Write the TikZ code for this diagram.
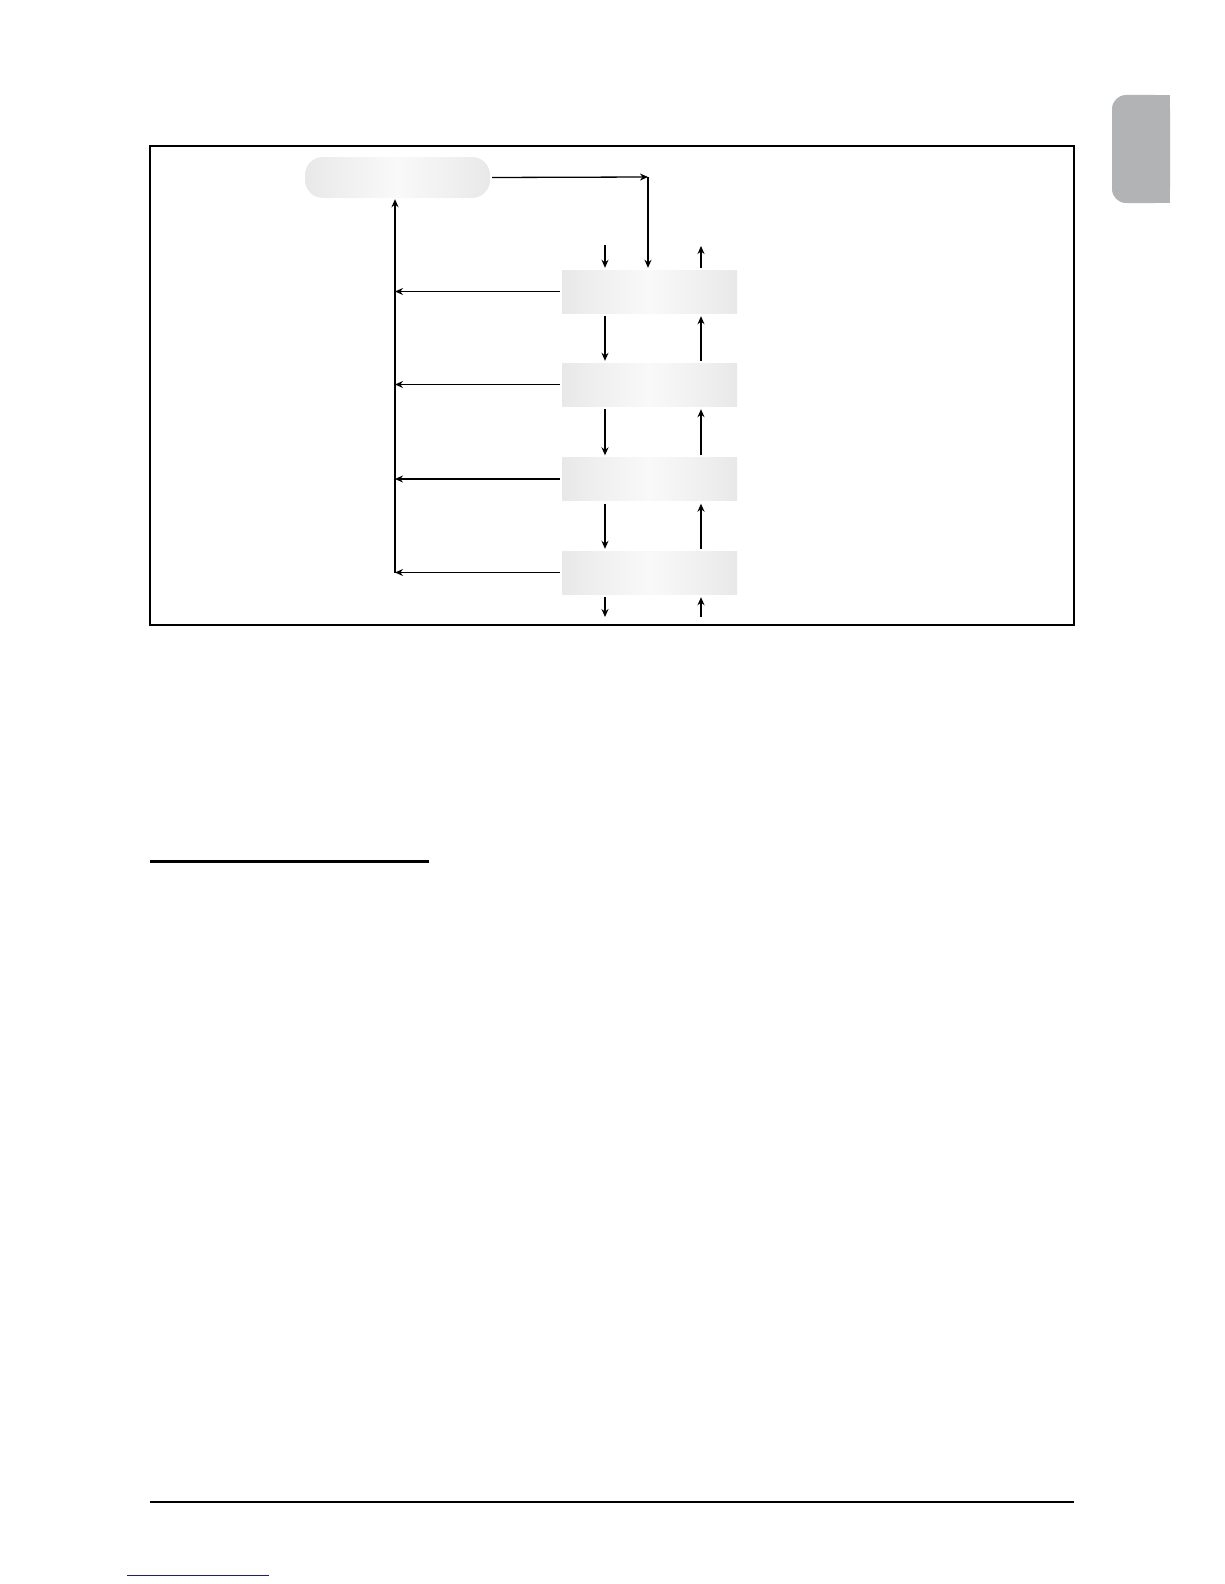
\documentclass[tikz,border=0pt]{standalone}
\usetikzlibrary{arrows.meta}
\definecolor{boxedge}{HTML}{E8E8E8}
\definecolor{boxnear}{HTML}{EEEEEE}
\definecolor{boxmid}{HTML}{F9F9F9}
\definecolor{tabgray}{HTML}{B1B3B4}
\definecolor{linkblue}{HTML}{1A1A99}
\pgfdeclarehorizontalshading{boxshade}{100bp}{color(0bp)=(boxedge); color(25bp)=(boxedge); color(33bp)=(boxnear); color(50bp)=(boxmid); color(67bp)=(boxnear); color(75bp)=(boxedge); color(100bp)=(boxedge)}
\begin{document}
\begin{tikzpicture}[x=1pt,y=-1pt,
  conn/.style={line width=1.3pt,-{Stealth[length=8pt,width=7pt]}},
  stagebox/.style={minimum width=175pt,minimum height=43pt,inner sep=0pt,
    shading=boxshade},
  topbox/.style={minimum width=185pt,minimum height=41pt,inner sep=0pt,
    rounded corners=18pt,shading=boxshade}]
\useasboundingbox (0,0) rectangle (1224,1584);
% frame
\draw[line width=1.6pt] (150,146) rectangle (1074,625);
% side tab
\fill[tabgray,rounded corners=14pt] (1112,95) rectangle (1170,203);
\fill[tabgray] (1145,95) rectangle (1170,203);
% nodes
\node[topbox] (top) at (397.5,177.5) {};
\node[stagebox] (b1) at (649.5,291.5) {};
\node[stagebox] (b2) at (649.5,384.5) {};
\node[stagebox] (b3) at (649.5,479) {};
\node[stagebox] (b4) at (649.5,572.5) {};
% helper coordinates
\coordinate (corner) at (648,177);
\coordinate (bus) at (395,0);
\coordinate (dn) at (605,0);
\coordinate (up) at (701,0);
\coordinate (inTop) at (605,245);
\coordinate (outTop) at (701,246);
\coordinate (outBot) at (605,617);
\coordinate (inBot) at (701,617);
% top loop
\draw[conn,shorten <=2pt] (top.east) -- (corner);
\draw[conn,shorten >=2pt] (corner) -- (corner |- b1.north);
% bus
\draw[conn,shorten >=1pt] (bus |- b4.west) -- (bus |- top.south);
\foreach \b in {b1,b2,b3,b4}{
  \draw[conn,shorten <=2pt] (\b.west) -- (bus |- \b.west);
}
% down arrows
\draw[conn,shorten >=2pt] (inTop) -- (inTop |- b1.north);
\draw[conn,shorten <=3pt,shorten >=2pt] (dn |- b1.south) -- (dn |- b2.north);
\draw[conn,shorten <=3pt,shorten >=2pt] (dn |- b2.south) -- (dn |- b3.north);
\draw[conn,shorten <=3pt,shorten >=2pt] (dn |- b3.south) -- (dn |- b4.north);
\draw[conn,shorten <=3pt] (dn |- b4.south) -- (outBot);
% up arrows
\draw[conn,shorten <=2pt] (up |- b1.north) -- (outTop);
\draw[conn,shorten <=2pt,shorten >=3pt] (up |- b2.north) -- (up |- b1.south);
\draw[conn,shorten <=2pt,shorten >=3pt] (up |- b3.north) -- (up |- b2.south);
\draw[conn,shorten <=2pt,shorten >=3pt] (up |- b4.north) -- (up |- b3.south);
\draw[conn,shorten >=3pt] (inBot) -- (up |- b4.south);
% rules
\draw[line width=3pt] (150,861) -- (429,861);
\draw[line width=1.3pt] (150,1502) -- (1074,1502);
\draw[linkblue,line width=1pt] (127,1575) -- (269,1575);
\end{tikzpicture}
\end{document}
